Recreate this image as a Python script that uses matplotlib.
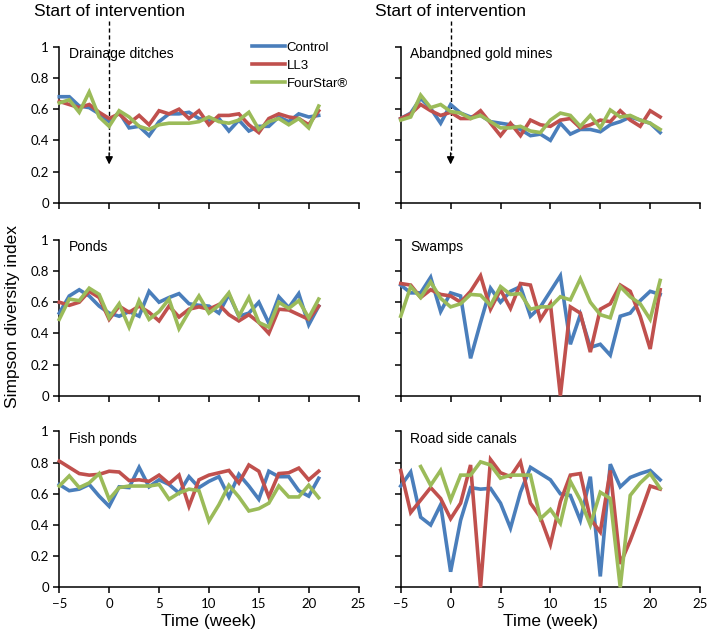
import numpy as np
import matplotlib
matplotlib.use("Agg")
import matplotlib.pyplot as plt

weeks = list(range(-5, 22))

panel_titles = ["Drainage ditches", "Abandoned gold mines", "Ponds", "Swamps",
                "Fish ponds", "Road side canals"]
series_names = ["Control", "LL3", "FourStar\u00ae"]
colors = ["#4A7EBB", "#C0504D", "#9BBB59"]

drainage_control = [0.68, 0.68, 0.62, 0.61, 0.57, 0.52, 0.58, 0.48, 0.49, 0.43, 0.52, 0.57, 0.57, 0.58,
                    0.54, 0.53, 0.54, 0.46, 0.53, 0.46, 0.49, 0.49, 0.55, 0.52, 0.57, 0.55, 0.56]
drainage_ll3 = [0.65, 0.63, 0.61, 0.63, 0.58, 0.54, 0.57, 0.51, 0.56, 0.50, 0.59, 0.57, 0.60, 0.54,
                0.59, 0.50, 0.56, 0.56, 0.57, 0.50, 0.45, 0.54, 0.57, 0.55, 0.54, 0.50, 0.59]
drainage_fourstar = [0.64, 0.66, 0.58, 0.71, 0.55, 0.49, 0.59, 0.55, 0.49, 0.47, 0.50, 0.51, 0.51, 0.51,
                     0.52, 0.55, 0.52, 0.51, 0.53, 0.58, 0.47, 0.52, 0.54, 0.50, 0.54, 0.48, 0.62]

gold_control = [0.54, 0.575, 0.67, 0.605, 0.51, 0.63, 0.575, 0.55, 0.56, 0.52, 0.51, 0.50, 0.47, 0.43,
                0.44, 0.40, 0.51, 0.44, 0.47, 0.47, 0.455, 0.50, 0.52, 0.55, 0.53, 0.51, 0.45]
gold_ll3 = [0.54, 0.57, 0.63, 0.59, 0.56, 0.58, 0.54, 0.54, 0.59, 0.51, 0.43, 0.51, 0.43, 0.53,
            0.50, 0.49, 0.53, 0.54, 0.48, 0.50, 0.53, 0.52, 0.59, 0.53, 0.49, 0.59, 0.55]
gold_fourstar = [0.53, 0.55, 0.69, 0.61, 0.63, 0.585, 0.575, 0.54, 0.56, 0.52, 0.48, 0.48, 0.49, 0.46,
                 0.45, 0.53, 0.575, 0.56, 0.49, 0.56, 0.48, 0.595, 0.55, 0.56, 0.53, 0.51, 0.47]

ponds_control = [0.53, 0.64, 0.68, 0.64, 0.575, 0.53, 0.51, 0.54, 0.51, 0.67, 0.60, 0.63, 0.655, 0.59,
                 0.58, 0.575, 0.53, 0.65, 0.51, 0.53, 0.60, 0.465, 0.635, 0.565, 0.655, 0.455, 0.575]
ponds_ll3 = [0.60, 0.58, 0.60, 0.67, 0.63, 0.49, 0.575, 0.535, 0.575, 0.535, 0.48, 0.575, 0.505, 0.555,
             0.57, 0.555, 0.585, 0.52, 0.48, 0.52, 0.47, 0.40, 0.555, 0.55, 0.52, 0.49, 0.575]
ponds_fourstar = [0.49, 0.62, 0.61, 0.69, 0.65, 0.50, 0.59, 0.44, 0.61, 0.49, 0.54, 0.62, 0.43, 0.54,
                  0.64, 0.53, 0.58, 0.66, 0.51, 0.63, 0.47, 0.44, 0.60, 0.56, 0.61, 0.50, 0.62]

swamps_control = [0.71, 0.66, 0.66, 0.76, 0.54, 0.66, 0.64, 0.24, 0.47, 0.69, 0.60, 0.67, 0.70, 0.51,
                  0.57, 0.67, 0.77, 0.33, 0.52, 0.31, 0.33, 0.26, 0.51, 0.53, 0.61, 0.67, 0.65]
swamps_ll3 = [0.72, 0.71, 0.63, 0.68, 0.65, 0.64, 0.60, 0.67, 0.77, 0.555, 0.68, 0.56, 0.72, 0.71,
              0.49, 0.59, 0.0, 0.57, 0.53, 0.28, 0.555, 0.59, 0.71, 0.67, 0.51, 0.30, 0.68]
swamps_fourstar = [0.51, 0.70, 0.63, 0.73, 0.625, 0.57, 0.59, 0.65, 0.645, 0.58, 0.70, 0.65, 0.655, 0.555,
                   0.57, 0.57, 0.635, 0.615, 0.75, 0.60, 0.52, 0.50, 0.70, 0.635, 0.59, 0.49, 0.74]

fish_control = [0.66, 0.62, 0.63, 0.66, 0.585, 0.52, 0.645, 0.64, 0.77, 0.645, 0.69, 0.66, 0.605, 0.71,
                0.64, 0.68, 0.71, 0.58, 0.725, 0.65, 0.565, 0.745, 0.71, 0.71, 0.62, 0.585, 0.70]
fish_ll3 = [0.81, 0.77, 0.73, 0.72, 0.725, 0.745, 0.74, 0.685, 0.69, 0.68, 0.72, 0.665, 0.72, 0.52,
            0.69, 0.72, 0.735, 0.75, 0.67, 0.785, 0.745, 0.58, 0.73, 0.735, 0.765, 0.69, 0.745]
fish_fourstar = [0.65, 0.715, 0.64, 0.67, 0.73, 0.565, 0.64, 0.65, 0.65, 0.65, 0.66, 0.565, 0.605, 0.63,
                 0.62, 0.425, 0.53, 0.655, 0.58, 0.49, 0.505, 0.54, 0.65, 0.58, 0.58, 0.655, 0.575]

road_control = [0.65, 0.74, 0.45, 0.40, 0.53, 0.10, 0.43, 0.64, 0.63, 0.635, 0.54, 0.38, 0.61, 0.77,
                0.73, 0.69, 0.60, 0.59, 0.43, 0.71, 0.07, 0.79, 0.645, 0.705, 0.73, 0.75, 0.69]
road_ll3 = [0.75, 0.48, 0.56, 0.64, 0.57, 0.44, 0.54, 0.785, 0.0, 0.82, 0.735, 0.71, 0.805, 0.54,
            0.45, 0.275, 0.55, 0.72, 0.73, 0.44, 0.355, 0.75, 0.15, 0.30, 0.47, 0.65, 0.63]
road_fourstar = [np.nan, np.nan, 0.775, 0.655, 0.75, 0.56, 0.72, 0.72, 0.805, 0.785, 0.70, 0.72, 0.72, 0.72,
                 0.44, 0.50, 0.41, 0.68, 0.56, 0.40, 0.61, 0.57, 0.0, 0.59, 0.67, 0.73, 0.635]

panel_data = [
    (drainage_control, drainage_ll3, drainage_fourstar),
    (gold_control, gold_ll3, gold_fourstar),
    (ponds_control, ponds_ll3, ponds_fourstar),
    (swamps_control, swamps_ll3, swamps_fourstar),
    (fish_control, fish_ll3, fish_fourstar),
    (road_control, road_ll3, road_fourstar),
]

x_ticks = [-5, 0, 5, 10, 15, 20, 25]
y_ticks = [0, 0.2, 0.4, 0.6, 0.8, 1]
y_tick_labels = ["0", "0.2", "0.4", "0.6", "0.8", "1"]

TEXT_FONT = ["Liberation Sans", "DejaVu Sans"]
TICK_FONT = ["Lato", "DejaVu Sans"]

fig = plt.figure(figsize=(7.09, 6.40), dpi=100)

lefts = [0.0836, 0.5652]
bottoms = [0.6833, 0.3817, 0.0823]
w_ax = 0.4222
h_ax = 0.2435

for idx, (title, data) in enumerate(zip(panel_titles, panel_data)):
    row, col = divmod(idx, 2)
    ax = fig.add_axes([lefts[col], bottoms[row], w_ax, h_ax])
    for vals, c, name in zip(data, colors, series_names):
        ax.plot(weeks, vals, color=c, lw=2.6, label=name, clip_on=False,
                solid_joinstyle="miter", zorder=3)
    ax.set_xlim(-5, 25)
    ax.set_ylim(0, 1)
    ax.set_xticks(x_ticks)
    ax.set_yticks(y_ticks)
    for s in ["top", "right"]:
        ax.spines[s].set_visible(False)
    for s in ["left", "bottom"]:
        ax.spines[s].set_linewidth(1.1)
        ax.spines[s].set_color("black")
    ax.tick_params(direction="out", length=4, width=1.1, colors="black", labelsize=9.5)
    if col == 0:
        ax.set_yticklabels(y_tick_labels, fontfamily=TICK_FONT)
    else:
        ax.set_yticklabels([])
    if row == 2:
        ax.set_xticklabels([str(t) if t >= 0 else "\u2212" + str(-t) for t in x_ticks],
                           fontfamily=TICK_FONT)
        ax.set_xlabel("Time (week)", fontsize=12.5, family=TEXT_FONT, labelpad=3)
    else:
        ax.set_xticklabels([])
    ax.text(-4.05, 0.955, title, fontsize=10, family=TEXT_FONT, va="center", ha="left")

    if row == 0:
        ax.plot([0, 0], [1.165, 0.31], color="black", lw=1.0, ls=(0, (3, 2)), clip_on=False)
        ax.annotate("", xy=(0, 0.245), xytext=(0, 0.32),
                    arrowprops=dict(arrowstyle="-|>", color="black", lw=1.0,
                                    mutation_scale=11, shrinkA=0, shrinkB=0),
                    annotation_clip=False)
        ax.text(0, 1.228, "Start of intervention", fontsize=12.5, family=TEXT_FONT,
                ha="center", va="center", clip_on=False)
    if idx == 0:
        leg = ax.legend(loc="upper left", bbox_to_anchor=(0.645, 1.035), frameon=False,
                        borderpad=0, borderaxespad=0, handlelength=2.45, handletextpad=0.15,
                        labelspacing=0.45, prop={"family": TEXT_FONT, "size": 9.5})

fig.text(0.018, 0.505, "Simpson diversity index", rotation=90, fontsize=12.5,
         family=TEXT_FONT, ha="center", va="center")

fig.savefig("out.png", dpi=100)
